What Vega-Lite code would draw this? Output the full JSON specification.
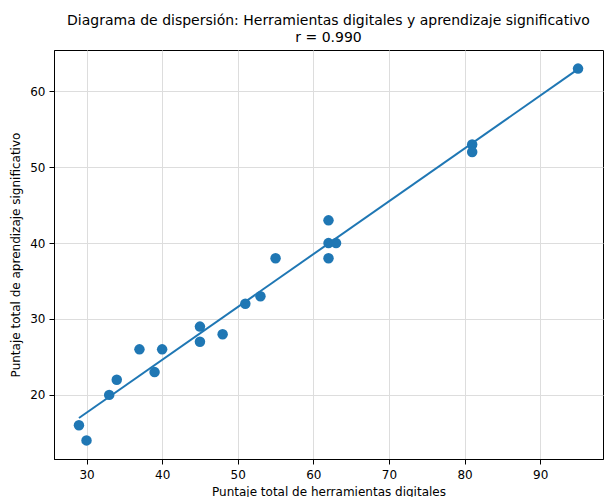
{
  "$schema": "https://vega.github.io/schema/vega-lite/v6.json",
  "width": 549,
  "height": 409,
  "autosize": {"type": "none"},
  "padding": {"left": 54, "top": 50, "right": 3, "bottom": 38},
  "background": "white",
  "title": {
    "text": ["Diagrama de dispersión: Herramientas digitales y aprendizaje significativo", "r = 0.990"],
    "anchor": "middle",
    "font": "DejaVu Sans",
    "fontSize": 14,
    "fontWeight": "normal",
    "color": "black",
    "lineHeight": 17,
    "offset": 5
  },
  "config": {
    "view": {"stroke": "black", "strokeWidth": 1},
    "axis": {
      "labelFont": "DejaVu Sans",
      "titleFont": "DejaVu Sans",
      "labelFontSize": 12,
      "titleFontSize": 12,
      "titleFontWeight": "normal",
      "labelColor": "black",
      "titleColor": "black",
      "tickColor": "black",
      "tickSize": 5,
      "domainColor": "black",
      "gridColor": "#dddddd",
      "gridWidth": 1
    }
  },
  "data": {
    "values": [
      {"herramientas": 29, "aprendizaje": 16},
      {"herramientas": 30, "aprendizaje": 14},
      {"herramientas": 33, "aprendizaje": 20},
      {"herramientas": 34, "aprendizaje": 22},
      {"herramientas": 37, "aprendizaje": 26},
      {"herramientas": 39, "aprendizaje": 23},
      {"herramientas": 40, "aprendizaje": 26},
      {"herramientas": 45, "aprendizaje": 29},
      {"herramientas": 45, "aprendizaje": 27},
      {"herramientas": 48, "aprendizaje": 28},
      {"herramientas": 51, "aprendizaje": 32},
      {"herramientas": 53, "aprendizaje": 33},
      {"herramientas": 55, "aprendizaje": 38},
      {"herramientas": 62, "aprendizaje": 43},
      {"herramientas": 62, "aprendizaje": 40},
      {"herramientas": 63, "aprendizaje": 40},
      {"herramientas": 62, "aprendizaje": 38},
      {"herramientas": 81, "aprendizaje": 53},
      {"herramientas": 81, "aprendizaje": 52},
      {"herramientas": 95, "aprendizaje": 63}
    ]
  },
  "encoding": {
    "x": {
      "field": "herramientas",
      "type": "quantitative",
      "scale": {"domain": [25.7, 98.3], "nice": false, "zero": false},
      "axis": {"title": "Puntaje total de herramientas digitales", "values": [30, 40, 50, 60, 70, 80, 90], "titlePadding": 6, "labelPadding": 5}
    },
    "y": {
      "field": "aprendizaje",
      "type": "quantitative",
      "scale": {"domain": [11.55, 65.45], "nice": false, "zero": false},
      "axis": {"title": "Puntaje total de aprendizaje significativo", "values": [20, 30, 40, 50, 60], "titlePadding": 7, "labelPadding": 4}
    }
  },
  "layer": [
    {
      "mark": {"type": "circle", "size": 110, "color": "#1f77b4", "opacity": 1}
    },
    {
      "transform": [{"regression": "aprendizaje", "on": "herramientas"}],
      "mark": {"type": "line", "color": "#1f77b4", "strokeWidth": 2}
    }
  ]
}
